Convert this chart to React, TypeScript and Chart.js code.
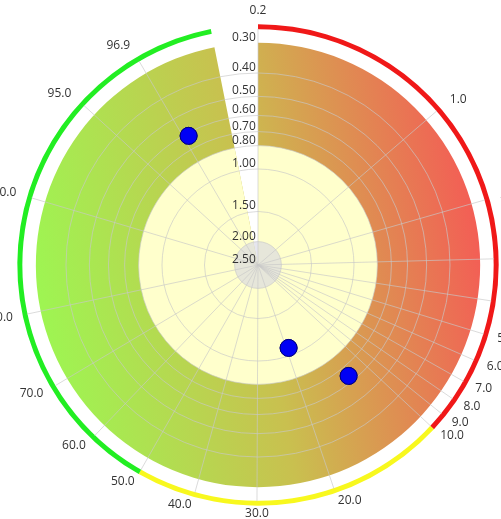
import { useEffect, useRef } from 'react';
import { Chart, registerables } from 'chart.js';

Chart.register(...registerables);

// ---- angular axis (percent on a logit scale) ----
const ANGLE_MIN_PCT = 0.245;
const ANGLE_MAX_PCT = 98.67;
const ANGLE_TICKS = [0.245, 1, 2, 3, 4, 5, 6, 7, 8, 9, 10, 20, 30, 40, 50, 60, 70, 80, 90, 95, 96.9];

// ---- radial axis (log, reversed: centre = 2.5) ----
const R_TICKS = [0.3, 0.4, 0.5, 0.6, 0.7, 0.8, 1.0, 1.5, 2.0, 2.5];
const R_CENTER = 2.5;
const R_EDGE = 0.2624;

// ---- outer colour ring ----
const RING_BREAKS = [0.245, 10, 50, 98.17];
const RING_COLORS = ['#f01818', '#f8f81e', '#22ee22'];
const RING_OUTER = 0.2514;
const RING_INNER = 0.2637;

// ---- series ----
const SERIES_END = 98.17;
const BAND_OUTER = 0.3;
const INNER_ZONE = 0.8;
const CORE_ZONE = 2.0;

const POINT_PCT = [97.06, 19.3, 12.2];
const POINT_VAL = [0.617, 1.075, 0.637];

// ---- styles ----
const GRID = 'rgba(200,200,200,0.65)';
const GRAD_STOPS: [number, string][] = [
  [0, '#9ef552'],
  [0.5, '#c9c04f'],
  [1, '#f35e55'],
];
const GRAD_TILT = 10; // degrees, gradient runs from lower-left to upper-right
const INNER_COLOR = '#ffffcc';
const CORE_COLOR = 'rgba(214,214,226,0.6)';
const TEXT = '#333333';
const FAMILY = "'Open Sans', sans-serif";
const LABEL_SHIFT = 0.0525;
const PL_PAD = 7;
const PL_TILT = 3;
const N = 1440;

const logit = (p: number) => Math.log(p / (100 - p));
const L0 = logit(ANGLE_MIN_PCT);
const L1 = logit(ANGLE_MAX_PCT);
const angleOf = (p: number) => (360 * (logit(p) - L0)) / (L1 - L0);
const binOf = (p: number) => Math.round((angleOf(p) / 360) * N) % N;

export default function App() {
  const ref = useRef<HTMLCanvasElement>(null);

  useEffect(() => {
    if (!ref.current) return;
    Chart.defaults.font.family = FAMILY;

    const labels: string[] = Array.from({ length: N }, () => '');
    ANGLE_TICKS.forEach((t) => {
      labels[binOf(t)] = t.toFixed(1);
    });

    const dotData: (number | null)[] = Array.from({ length: N }, () => null);
    POINT_PCT.forEach((p, k) => {
      dotData[binOf(p)] = Math.log(POINT_VAL[k]);
    });

    const seriesSpan = angleOf(SERIES_END) - angleOf(ANGLE_MIN_PCT);
    const ringSpans = RING_COLORS.map((_, i) => angleOf(RING_BREAKS[i + 1]) - angleOf(RING_BREAKS[i]));

    const bandColor = (c: any) => {
      const chart = c.chart;
      const s = chart.scales && chart.scales.r;
      if (!s || !chart.chartArea) return GRAD_STOPS[0][1];
      const R = s.getDistanceFromCenterForValue(Math.log(BAND_OUTER));
      const t = (GRAD_TILT * Math.PI) / 180;
      const dx = R * Math.cos(t);
      const dy = R * Math.sin(t);
      const g = chart.ctx.createLinearGradient(s.xCenter - dx, s.yCenter + dy, s.xCenter + dx, s.yCenter - dy);
      GRAD_STOPS.forEach(([o, col]) => g.addColorStop(o, col));
      return g;
    };

    const dotsOnTop = {
      id: 'dotsOnTop',
      afterDraw(chart: any) {
        const meta = chart.getDatasetMeta(0);
        if (meta && meta.controller) meta.controller.draw();
      },
    };

    const chart = new Chart(ref.current, {
      type: 'polarArea',
      data: {
        labels,
        datasets: [
          {
            type: 'radar',
            data: dotData,
            showLine: false,
            fill: false,
            borderWidth: 0,
            pointRadius: 8.5,
            pointBackgroundColor: '#0000f5',
            pointBorderColor: '#000080',
            pointBorderWidth: 1,
          } as any,
          { data: [Math.log(CORE_ZONE)], angle: [360], backgroundColor: CORE_COLOR, borderWidth: 0 } as any,
          { data: [Math.log(INNER_ZONE)], angle: [seriesSpan], backgroundColor: INNER_COLOR, borderWidth: 0 } as any,
          { data: [Math.log(BAND_OUTER)], angle: [seriesSpan], backgroundColor: bandColor, borderWidth: 0 } as any,
          { data: [Math.log(RING_INNER)], angle: [360], backgroundColor: '#ffffff', borderWidth: 0 } as any,
          {
            data: RING_COLORS.map(() => Math.log(RING_OUTER)),
            angle: ringSpans,
            backgroundColor: RING_COLORS,
            borderWidth: 0,
          } as any,
        ],
      },
      options: {
        animation: false,
        responsive: true,
        maintainAspectRatio: false,
        events: [],
        plugins: { legend: { display: false }, tooltip: { enabled: false } },
        scales: {
          r: {
            type: 'radialLinear',
            min: Math.log(R_EDGE),
            max: Math.log(R_CENTER),
            reverse: true,
            startAngle: 0,
            grid: {
              circular: true,
              z: 1,
              color: GRID,
              lineWidth: (c: any) =>
                c.tick && c.tick.kind === 'grid' && c.tick.value > Math.log(BAND_OUTER) + 0.001 ? 1 : 0,
            },
            angleLines: {
              display: true,
              color: GRID,
              lineWidth: (c: any) => (c.label ? 1 : 0),
            },
            pointLabels: {
              display: true,
              padding: (c: any) => PL_PAD + PL_TILT * Math.cos((c.index / N) * 2 * Math.PI),
              color: TEXT,
              font: { family: FAMILY, size: 12, lineHeight: 0.1 },
            },
            ticks: {
              z: 1,
              reverse: true,
              display: true,
              autoSkip: false,
              showLabelBackdrop: false,
              color: TEXT,
              font: { family: FAMILY, size: 12 },
              callback: (_v: any, i: number, ticks: any[]) => (ticks[i] && ticks[i].text) || '',
            },
            afterBuildTicks: (scale: any) => {
              const grid = R_TICKS.map((v) => ({ value: Math.log(v), kind: 'grid', text: '' }));
              const lab = R_TICKS.map((v) => ({
                value: Math.log(v) - LABEL_SHIFT,
                kind: 'label',
                text: v.toFixed(2) + '         ',
              }));
              scale.ticks = [...grid, ...lab];
            },
          } as any,
        },
      } as any,
      plugins: [dotsOnTop],
    });

    return () => chart.destroy();
  }, []);

  return (
    <div style={{ position: 'fixed', left: 0, top: 0, width: 501, height: 519, overflow: 'hidden', background: '#fff' }}>
      <div style={{ position: 'absolute', left: -11, top: -6, width: 538, height: 538 }}>
        <canvas ref={ref} />
      </div>
    </div>
  );
}
